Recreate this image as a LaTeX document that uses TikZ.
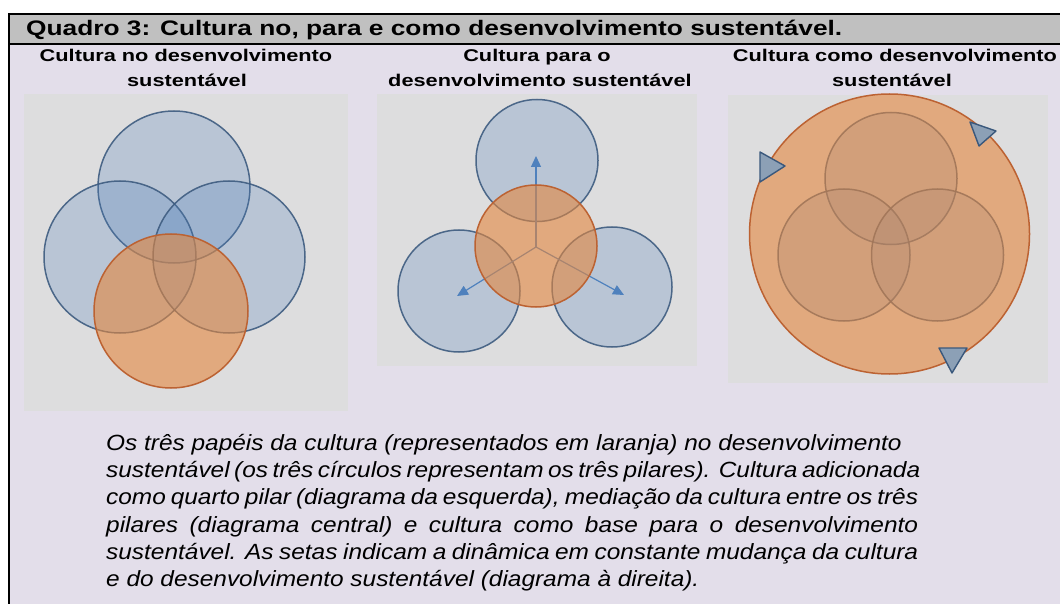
\documentclass[tikz,border=0pt]{standalone}
\usepackage{fontspec}
\setmainfont{Liberation Sans}
\usetikzlibrary{arrows.meta}
\definecolor{lav}{RGB}{227,222,234}
\definecolor{titlegray}{RGB}{192,192,192}
\definecolor{panelgray}{RGB}{221,221,222}
\definecolor{pillarblue}{RGB}{79,129,189}
\definecolor{pillarline}{RGB}{62,92,128}
\definecolor{culturefill}{RGB}{228,135,62}
\definecolor{cultureline}{RGB}{188,98,50}
\definecolor{tipfill}{RGB}{140,160,182}
\definecolor{tipline}{RGB}{58,88,124}
\tikzset{
  pillar/.style={circle, inner sep=0pt, draw=pillarline, line width=1.5pt,
    fill=pillarblue, fill opacity=0.25, draw opacity=0.9},
  culture/.style={circle, inner sep=0pt, draw=cultureline, line width=1.5pt,
    fill=culturefill, fill opacity=0.6},
  panel/.style={fill=panelgray, draw=none},
  hd/.style={font=\fontsize{17}{20}\selectfont\bfseries, inner sep=0pt, anchor=base},
  capline/.style={font=\fontsize{22}{26}\selectfont\itshape, inner sep=0pt, anchor=base west},
  flowarrow/.style={draw=pillarblue, line width=1.2pt, -{Triangle[length=11pt,width=10pt]}},
  turntip/.style={fill=tipfill, draw=tipline, line width=1.4pt, line join=round}
}
\newcommand{\capjust}[1]{\scalebox{1.11}[1]{\makebox[731.5pt][s]{#1}}}
\newcommand{\capnat}[1]{\scalebox{1.11}[1]{#1}}
\newcommand{\headwide}[1]{\scalebox{1.28}[1]{#1}}
\begin{document}
\begin{tikzpicture}[x=1pt,y=-1pt]
\useasboundingbox (0,0) rectangle (1060,604);
\fill[white] (0,0) rectangle (1060,604);
% box
\fill[lav] (9,44) rectangle (1060,604);
\fill[titlegray] (9,14) rectangle (1060,44);
\draw[line width=2pt] (9,604) -- (9,14) -- (1060,14);
\draw[line width=1.5pt] (9,44) -- (1060,44);
% title
\node[anchor=base west, inner sep=0pt, font=\fontsize{21}{25}\selectfont\bfseries] (title) at (26,36)
  {\resizebox{816pt}{\height}{Quadro 3: Cultura no, para e como desenvolvimento sustentável.}};
% headings
\node[hd] (h1a) at (186,62) {\headwide{Cultura no desenvolvimento}};
\node[hd] (h1b) at (187,87) {\headwide{sustentável}};
\node[hd] (h2a) at (537,62) {\headwide{Cultura para o}};
\node[hd] (h2b) at (540,87) {\headwide{desenvolvimento sustentável}};
\node[hd] (h3a) at (895,62) {\headwide{Cultura como desenvolvimento}};
\node[hd] (h3b) at (892,87) {\headwide{sustentável}};
% panels
\path[panel] (24,94) rectangle (348,411);
\path[panel] (377,94) rectangle (697,366);
\path[panel] (728,95) rectangle (1048,383);
% panel 1
\node[pillar, minimum size=152pt] (p1top) at (174,187) {};
\node[pillar, minimum size=152pt] (p1left) at (120,257) {};
\node[pillar, minimum size=152pt] (p1right) at (229,257) {};
\node[culture, minimum size=154pt] (p1cult) at (171,311) {};
% panel 2
\node[pillar, minimum size=122pt] (p2top) at (537,160.5) {};
\node[pillar, minimum size=122pt] (p2left) at (459,291) {};
\node[pillar, minimum size=120pt] (p2right) at (612,287) {};
\coordinate (p2c) at (536,247);
\coordinate (p2ttip) at (536,156);
\coordinate (p2ltip) at (457,296);
\coordinate (p2rtip) at (624,295);
\draw[flowarrow] (p2c) -- (p2ttip);
\draw[flowarrow] (p2c) -- (p2ltip);
\draw[flowarrow] (p2c) -- (p2rtip);
\node[culture, minimum size=122pt] (p2cult) at (536,246) {};
% panel 3
\node[pillar, minimum size=132pt] (p3top) at (891,178.5) {};
\node[pillar, minimum size=132pt] (p3left) at (844,255) {};
\node[pillar, minimum size=132pt] (p3right) at (937.5,255) {};
\node[culture, minimum size=280pt] (p3cult) at (889.5,234) {};
\draw[turntip] (760,152) -- (785,166) -- (760,182) -- cycle;
\draw[turntip] (970,122) -- (996,131) -- (979,146) -- cycle;
\draw[turntip] (939,348) -- (967,348) -- (952,373) -- cycle;
% caption
\node[capline] (c1) at (106,450) {\capnat{Os três papéis da cultura (representados em laranja) no desenvolvimento}};
\node[capline] (c2) at (106,477.3) {\capjust{sustentável (os três círculos representam os três pilares). Cultura adicionada}};
\node[capline] (c3) at (106,504.6) {\capjust{como quarto pilar (diagrama da esquerda), mediação da cultura entre os três}};
\node[capline] (c4) at (106,532) {\capjust{pilares (diagrama central) e cultura como base para o desenvolvimento}};
\node[capline] (c5) at (106,559.3) {\capjust{sustentável. As setas indicam a dinâmica em constante mudança da cultura}};
\node[capline] (c6) at (106,586.7) {\capnat{e do desenvolvimento sustentável (diagrama à direita).}};
\end{tikzpicture}
\end{document}
